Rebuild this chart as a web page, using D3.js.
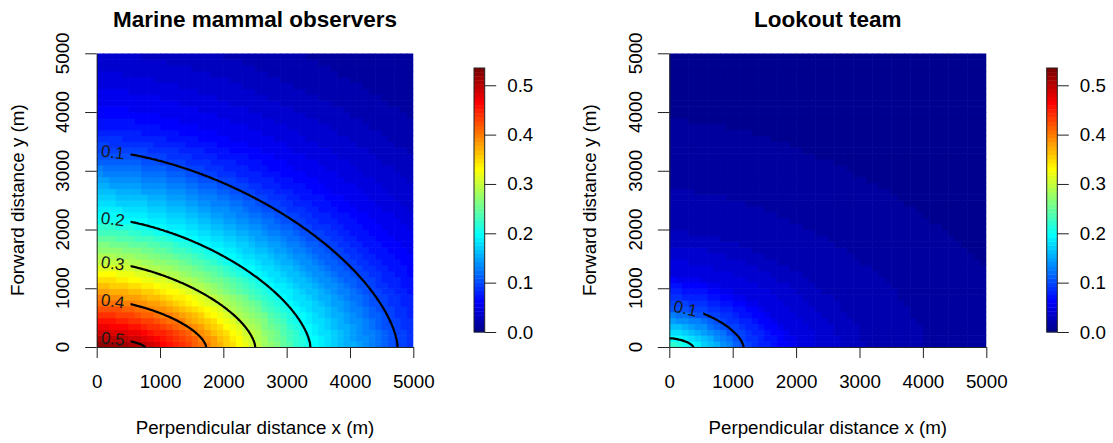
<!DOCTYPE html>
<html><head><meta charset="utf-8">
<script src="https://cdn.jsdelivr.net/npm/d3@7"></script>
<style>
body{margin:0;background:#fff}
svg{display:block}
text{font-family:"Liberation Sans",Arial,sans-serif;fill:#000}
</style>
</head><body>
<svg id="chart" width="1113" height="443"></svg>
<script>
// ---------------- data ----------------
const panelTitles = ["Marine mammal observers", "Lookout team"];
const xAxisTitle = "Perpendicular distance x (m)";
const yAxisTitle = "Forward distance y (m)";
const axisTicks = [0, 1000, 2000, 3000, 4000, 5000];
const colorbarTicks = [0.0, 0.1, 0.2, 0.3, 0.4, 0.5];
const zRange = [0, 0.535];
const nColors = 64;

// detection probability level, and the distance (m) at which that level
// meets the x axis (perpendicular) and the y axis (forward)
const mmoLevels         = [0.535, 0.5, 0.4,  0.3,  0.2,  0.1,  0.08, 0.06, 0.04, 0.025, 0.012, 0.005];
const mmoXIntercept     = [0,     763, 1728, 2503, 3373, 4750, 5150, 5700, 6400, 7200,  8200,  9500];
const mmoYIntercept     = [0,     165, 809,  1455, 2204, 3342, 3650, 4050, 4750, 5400,  6200,  7500];

const lookoutLevels     = [0.24, 0.2, 0.1,  0.05, 0.025, 0.0167, 0.0084, 0.005, 0.002];
const lookoutXIntercept = [0,    379, 1167, 2000, 3080,  4050,   5625,   7300,  9500];
const lookoutYIntercept = [0,    148, 700,  1250, 1990,  2700,   3860,   5000,  6500];

const mmoContourLevels = [0.1, 0.2, 0.3, 0.4, 0.5];
const lookoutContourLevels = [0.1, 0.2];
const lookoutLabelledLevels = [0.1];
const contourShape = 1.6;   // exponent of the (super-)elliptic iso-lines

// ---------------- helpers ----------------
function jetColors(m) {
  const n = Math.ceil(m / 4);
  const u = [];
  for (let i = 1; i <= n; i++) u.push(i / n);
  for (let i = 1; i < n; i++) u.push(1);
  for (let i = n; i >= 1; i--) u.push(i / n);
  const off = Math.ceil(n / 2) - (m % 4 === 1 ? 1 : 0);
  const r = new Array(m).fill(0), g = new Array(m).fill(0), b = new Array(m).fill(0);
  u.forEach((val, j) => {
    const gi = off + j + 1, ri = gi + n, bi = gi - n;
    if (gi >= 1 && gi <= m) g[gi - 1] = val;
    if (ri >= 1 && ri <= m) r[ri - 1] = val;
    if (bi >= 1 && bi <= m) b[bi - 1] = val;
  });
  return d3.range(m).map(i => d3.rgb(Math.round(r[i] * 255), Math.round(g[i] * 255), Math.round(b[i] * 255)).formatHex());
}
const palette = jetColors(nColors);
const color = d3.scaleQuantize().domain(zRange).range(palette);

function makeField(levels, ax, by) {
  const aOf = d3.scaleLinear().domain(levels).range(ax).clamp(true);
  const bOf = d3.scaleLinear().domain(levels).range(by).clamp(true);
  const p = contourShape;
  return (x, y) => {
    x = Math.abs(x); y = Math.abs(y);
    const g = L => Math.pow(x / aOf(L), p) + Math.pow(y / bOf(L), p);
    let lo = levels[levels.length - 1], hi = levels[0];
    if (g(lo) >= 1) return lo;
    for (let k = 0; k < 40; k++) {
      const mid = (lo + hi) / 2;
      if (g(mid) > 1) hi = mid; else lo = mid;
    }
    return (lo + hi) / 2;
  };
}

// ---------------- layout ----------------
const svg = d3.select("#chart");
const plotTop = 53.3, plotBottom = 347;
const cbTop = 68, cbBottom = 332;
const fs = 18.75;

const panels = [
  { title: panelTitles[0], levels: mmoLevels, ax: mmoXIntercept, by: mmoYIntercept,
    contours: mmoContourLevels, labelled: mmoContourLevels,
    left: 96.7, right: 413.3, cbLeft: 474, cbRight: 484.7 },
  { title: panelTitles[1], levels: lookoutLevels, ax: lookoutXIntercept, by: lookoutYIntercept,
    contours: lookoutContourLevels, labelled: lookoutLabelledLevels,
    left: 669.3, right: 986.3, cbLeft: 1046.7, cbRight: 1057.3 }
];

const defs = svg.append("defs");

panels.forEach((P, pi) => {
  const field = makeField(P.levels, P.ax, P.by);
  const xs = d3.scaleLinear().domain([0, 5000]).range([P.left, P.right]);
  const ys = d3.scaleLinear().domain([0, 5000]).range([plotBottom, plotTop]);
  const g = svg.append("g");

  // clip paths
  defs.append("clipPath").attr("id", "clip" + pi).append("rect")
    .attr("x", P.left).attr("y", plotTop).attr("width", P.right - P.left).attr("height", plotBottom - plotTop);
  const labelCut = 535;
  defs.append("clipPath").attr("id", "clipL" + pi).append("rect")
    .attr("x", xs(labelCut)).attr("y", plotTop).attr("width", P.right - xs(labelCut)).attr("height", plotBottom - plotTop);

  // image cells (50 x 50, 100 m)
  const step = 100, nCell = 50;
  const cells = d3.cross(d3.range(nCell), d3.range(nCell)).map(([i, j]) => ({
    x0: i * step, x1: (i + 1) * step, y0: j * step, y1: (j + 1) * step,
    v: field(i * step + step / 2, j * step + step / 2)
  }));
  g.append("g").attr("clip-path", `url(#clip${pi})`)
    .selectAll("rect").data(cells).join("rect")
    .attr("x", d => xs(d.x0)).attr("y", d => ys(d.y1))
    .attr("width", d => xs(d.x1) - xs(d.x0) + 0.6)
    .attr("height", d => ys(d.y0) - ys(d.y1) + 0.6)
    .attr("fill", d => color(d.v));

  // contour lines on a fine grid that extends beyond the plot
  const gs = 25, gmin = -250, n = Math.round((5250 - gmin) / gs) + 1;
  const values = new Float64Array(n * n);
  for (let j = 0; j < n; j++) for (let i = 0; i < n; i++)
    values[j * n + i] = field(gmin + i * gs, gmin + j * gs);
  const conts = d3.contours().size([n, n]).thresholds(P.contours)(values);
  const line = d3.line()
    .x(c => xs(gmin + (c[0] - 0.5) * gs))
    .y(c => ys(gmin + (c[1] - 0.5) * gs));
  conts.forEach(ct => {
    const labelled = P.labelled.includes(ct.value);
    const cg = g.append("g").attr("clip-path", `url(#${labelled ? "clipL" : "clip"}${pi})`);
    ct.coordinates.forEach(poly => poly.forEach(ring => {
      cg.append("path").attr("d", line(ring)).attr("fill", "none")
        .attr("stroke", "#000").attr("stroke-width", 2.2).attr("stroke-linejoin", "round");
    }));
  });

  // contour labels
  const labelX = 255;
  const yAt = (x, L) => {
    let lo = 0, hi = 8000;
    for (let k = 0; k < 40; k++) { const mid = (lo + hi) / 2; if (field(x, mid) > L) lo = mid; else hi = mid; }
    return (lo + hi) / 2;
  };
  P.labelled.forEach(L => {
    const y = yAt(labelX, L);
    const ya = yAt(labelX - 80, L), yb = yAt(labelX + 80, L);
    const ang = Math.atan2(ys(yb) - ys(ya), xs(labelX + 80) - xs(labelX - 80)) * 180 / Math.PI;
    g.append("text")
      .attr("transform", `translate(${xs(labelX)},${ys(y)}) rotate(${ang})`)
      .attr("text-anchor", "middle").attr("dy", "0.36em")
      .attr("font-size", 17).style("fill", "#1a1a1a")
      .text(d3.format(".1f")(L));
  });

  // axes
  const xAxis = d3.axisBottom(xs).tickValues(axisTicks).tickSize(11).tickSizeOuter(0)
    .tickPadding(17).tickFormat(d3.format("d"));
  const gx = g.append("g").attr("transform", `translate(0,${plotBottom})`).call(xAxis);
  gx.selectAll("text").attr("font-size", fs).attr("font-family", "Liberation Sans, Arial, sans-serif");
  const yAxis = d3.axisLeft(ys).tickValues(axisTicks).tickSize(11.5).tickSizeOuter(0).tickFormat("");
  g.append("g").attr("transform", `translate(${P.left},0)`).call(yAxis);
  g.selectAll(".domain, .tick line").attr("stroke", "#222");
  axisTicks.forEach(v => {
    g.append("text")
      .attr("transform", `translate(${P.left - 34.2},${ys(v)}) rotate(-90)`)
      .attr("text-anchor", "middle").attr("dy", "0.36em")
      .attr("font-size", fs).text(d3.format("d")(v));
  });

  // titles
  const cx = (P.left + P.right) / 2;
  g.append("text").attr("x", cx).attr("y", 26.5).attr("text-anchor", "middle")
    .attr("font-size", 22.5).attr("font-weight", "bold").text(P.title);
  g.append("text").attr("x", cx).attr("y", 434).attr("text-anchor", "middle")
    .attr("font-size", fs).text(xAxisTitle);
  g.append("text").attr("transform", `translate(${P.left - 73.2},${(plotTop + plotBottom) / 2}) rotate(-90)`)
    .attr("text-anchor", "middle").attr("font-size", fs).text(yAxisTitle);

  // colour bar
  const cb = d3.scaleLinear().domain(zRange).range([cbBottom, cbTop]);
  const binW = (zRange[1] - zRange[0]) / nColors;
  g.append("g").selectAll("rect").data(palette).join("rect")
    .attr("x", P.cbLeft).attr("width", P.cbRight - P.cbLeft)
    .attr("y", (c, i) => cb(zRange[0] + (i + 1) * binW))
    .attr("height", (c, i) => cb(zRange[0] + i * binW) - cb(zRange[0] + (i + 1) * binW) + 0.4)
    .attr("fill", c => c);
  g.append("rect").attr("x", P.cbLeft).attr("y", cbTop)
    .attr("width", P.cbRight - P.cbLeft).attr("height", cbBottom - cbTop)
    .attr("fill", "none").attr("stroke", "#222").attr("stroke-width", 1);
  const cAxis = d3.axisRight(cb).tickValues(colorbarTicks).tickSize(11.5).tickPadding(11)
    .tickSizeOuter(0).tickFormat(d3.format(".1f"));
  const gc = g.append("g").attr("transform", `translate(${P.cbRight},0)`).call(cAxis);
  gc.select(".domain").remove();
  gc.selectAll(".tick line").attr("stroke", "#222");
  gc.selectAll("text").attr("font-size", fs).attr("font-family", "Liberation Sans, Arial, sans-serif");
});
</script>
</body></html>
